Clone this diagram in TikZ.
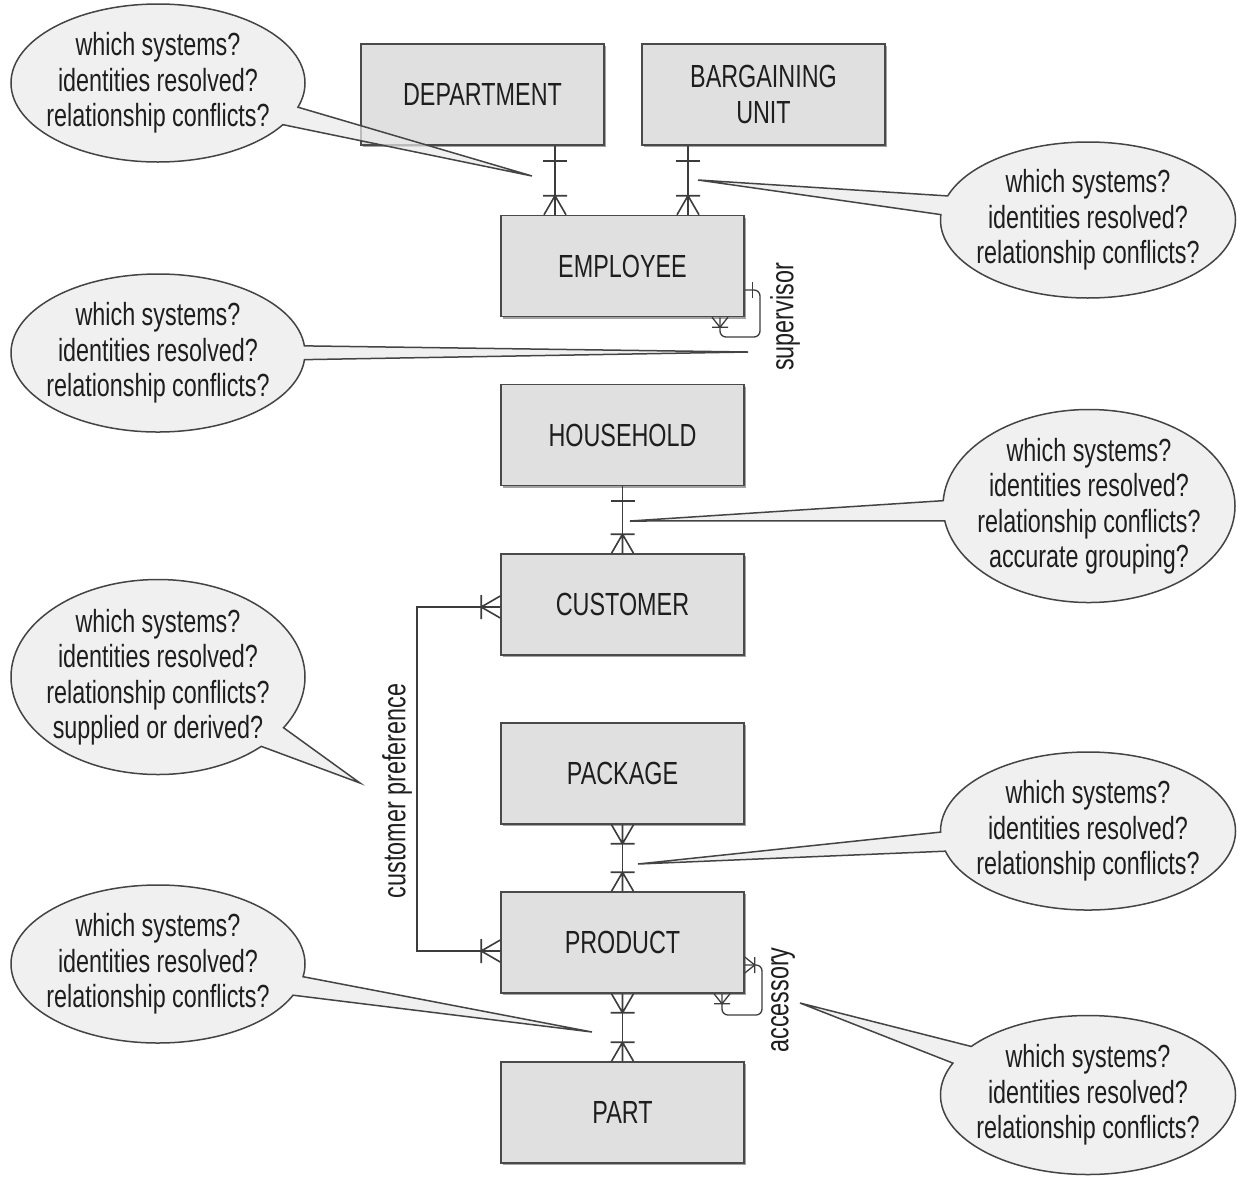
\documentclass[tikz,border=0pt]{standalone}
\usepackage{fontspec}
\setmainfont[FakeStretch=0.73]{Liberation Sans}
\usetikzlibrary{shapes.callouts,shadows}

\definecolor{boxfill}{HTML}{E0E0E0}
\definecolor{boxline}{HTML}{4A4A4A}
\definecolor{linegray}{HTML}{3C3C3C}
\definecolor{bubblefill}{HTML}{EBEBEB}
\definecolor{bubbleline}{HTML}{444444}
\definecolor{textdark}{HTML}{1E1E1E}

\tikzset{
  entity/.style={draw=boxline, fill=boxfill, line width=1.5pt,
    minimum width=243pt, minimum height=101pt, align=center, text=textdark,
    drop shadow={shadow xshift=2pt, shadow yshift=-2pt, fill=black!60, opacity=0.6}},
  rel/.style={draw=linegray, line width=1.6pt},
  bubble/.style={ellipse callout, draw=bubbleline, fill=bubblefill,
    fill opacity=0.7, text opacity=1, line width=1.5pt, inner sep=-25pt,
    minimum width=294pt, minimum height=158pt, callout pointer arc=14,
    align=center, text=textdark},
  rolelabel/.style={rotate=90, text=textdark},
  % bar + crow's foot, local x axis points away from the entity
  crowmark/.pic={\draw[rel] (0,-11) -- (19,0) -- (0,11) (0,0) -- (19,0) (19,-12) -- (19,12);},
  barmark/.pic={\draw[rel] (15,-12) -- (15,12);},
  scrowmark/.pic={\draw[rel, line width=1.3pt] (0,-8) -- (10,0) -- (0,8) (10,-8) -- (10,8);},
  sbarmark/.pic={\draw[rel, line width=1.3pt] (8,-8) -- (8,8);},
}

\begin{document}
\begin{tikzpicture}[x=1pt, y=-1pt, font=\fontsize{32}{35.5}\selectfont]
\useasboundingbox (0,0) rectangle (1237,1176);
\fill[white] (0,0) rectangle (1237,1176);

% entities
\node[entity] (dept) at (482.5,94.5) {DEPARTMENT};
\node[entity] (barg) at (763.5,94.5) {BARGAINING\\UNIT};
\node[entity] (emp)  at (622.5,266)  {EMPLOYEE};
\node[entity] (hh)   at (622.5,435)  {HOUSEHOLD};
\node[entity] (cust) at (622.5,604.5) {CUSTOMER};
\node[entity] (pkg)  at (622.5,773.5) {PACKAGE};
\node[entity] (prod) at (622.5,942.5) {PRODUCT};
\node[entity] (part) at (622.5,1112.5) {PART};

% relationship lanes
\coordinate (xdept) at (555,0);
\coordinate (xbarg) at (688,0);

% DEPARTMENT -- EMPLOYEE
\draw[rel] (dept.south -| xdept) -- (emp.north -| xdept);
\pic[rotate=-90] at (dept.south -| xdept) {barmark};
\pic[rotate=90]  at (emp.north -| xdept) {crowmark};

% BARGAINING UNIT -- EMPLOYEE
\draw[rel] (barg.south -| xbarg) -- (emp.north -| xbarg);
\pic[rotate=-90] at (barg.south -| xbarg) {barmark};
\pic[rotate=90]  at (emp.north -| xbarg) {crowmark};

% supervisor (EMPLOYEE self relationship)
\coordinate (supA) at (760,290);
\coordinate (supB) at (720,337);
\draw[rel, line width=1.3pt, rounded corners=6] (emp.east |- supA) -- (supA) |- (supB) -- (emp.south -| supB);
\pic at (emp.east |- supA) {sbarmark};
\pic[rotate=-90] at (emp.south -| supB) {scrowmark};
\node[rolelabel] (suplbl) at (785,317) {supervisor};

% HOUSEHOLD -- CUSTOMER
\draw[rel] (hh.south) -- (cust.north);
\pic[rotate=-90] at (hh.south) {barmark};
\pic[rotate=90]  at (cust.north) {crowmark};

% customer preference (CUSTOMER -- PRODUCT)
\coordinate (cpA) at (417,607);
\coordinate (cpB) at (417,951);
\draw[rel] (cust.west |- cpA) -- (cpA) -- (cpB) -- (prod.west |- cpB);
\pic[rotate=180] at (cust.west |- cpA) {crowmark};
\pic[rotate=180] at (prod.west |- cpB) {crowmark};
\node[rolelabel] (cplbl) at (397,791) {customer preference};

% PACKAGE -- PRODUCT
\draw[rel] (pkg.south) -- (prod.north);
\pic[rotate=-90] at (pkg.south) {crowmark};
\pic[rotate=90]  at (prod.north) {crowmark};

% PRODUCT -- PART
\draw[rel] (prod.south) -- (part.north);
\pic[rotate=-90] at (prod.south) {crowmark};
\pic[rotate=90]  at (part.north) {crowmark};

% accessory (PRODUCT self relationship)
\coordinate (accA) at (762,965);
\coordinate (accB) at (722,1015);
\draw[rel, line width=1.3pt, rounded corners=6] (prod.east |- accA) -- (accA) |- (accB) -- (prod.south -| accB);
\pic at (prod.east |- accA) {scrowmark};
\pic[rotate=-90] at (prod.south -| accB) {scrowmark};
\node[rolelabel] (acclbl) at (783,1000) {accessory};

% question bubbles
\coordinate (t1) at (532,176);
\coordinate (t2) at (698,180);
\coordinate (t3) at (748,352);
\coordinate (t4) at (630,521);
\coordinate (t5) at (360,783);
\coordinate (t6) at (638,864);
\coordinate (t7) at (592,1032);
\coordinate (t8) at (800,1003);

\node[bubble, callout absolute pointer={(t1)}] (q1) at (158,83)
  {which systems?\\identities resolved?\\relationship conflicts?};
\node[bubble, callout absolute pointer={(t2)}, minimum width=295pt, minimum height=156pt] (q2) at (1088,220)
  {which systems?\\identities resolved?\\relationship conflicts?};
\node[bubble, callout absolute pointer={(t3)}, callout pointer arc=10] (q3) at (158,353)
  {which systems?\\identities resolved?\\relationship conflicts?};
\node[bubble, callout absolute pointer={(t4)}, minimum width=292pt, minimum height=193pt, callout pointer arc=12] (q4) at (1089,506)
  {which systems?\\identities resolved?\\relationship conflicts?\\accurate grouping?};
\node[bubble, callout absolute pointer={(t5)}, minimum height=195pt] (q5) at (158,677)
  {which systems?\\identities resolved?\\relationship conflicts?\\supplied or derived?};
\node[bubble, callout absolute pointer={(t6)}, minimum width=295pt] (q6) at (1088,831)
  {which systems?\\identities resolved?\\relationship conflicts?};
\node[bubble, callout absolute pointer={(t7)}] (q7) at (158,964)
  {which systems?\\identities resolved?\\relationship conflicts?};
\node[bubble, callout absolute pointer={(t8)}, minimum width=295pt, minimum height=159pt] (q8) at (1088,1095)
  {which systems?\\identities resolved?\\relationship conflicts?};
\end{tikzpicture}
\end{document}
